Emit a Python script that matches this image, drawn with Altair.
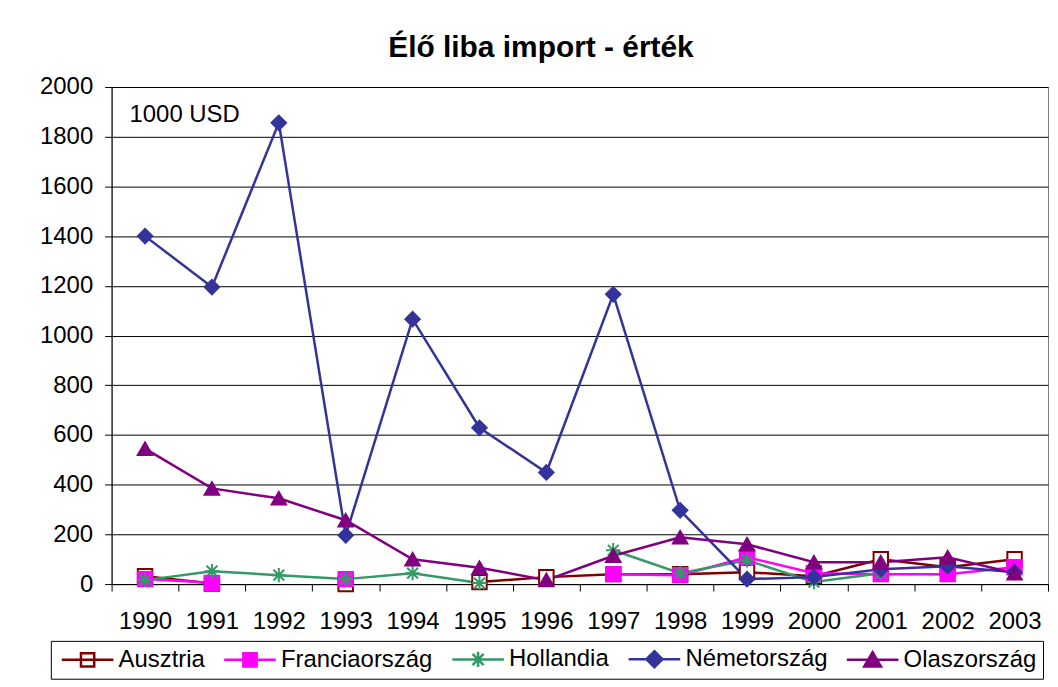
import altair as alt
import pandas as pd

years = [str(y) for y in range(1990, 2004)]
series_names = ["Ausztria", "Franciaország", "Hollandia", "Németország", "Olaszország"]
colors = ["#800000", "#FF00FF", "#339966", "#333399", "#800080"]
fills = ["#FFFFFF", "#FF00FF", "#339966", "#333399", "#800080"]

ausztria = [32, 2, None, 0, None, 8, 28, 40, 40, 48, 32, 100, 68, 100]
franciaorszag = [20, 5, None, 20, None, None, None, 40, 36, 108, 44, 40, 40, 68]
hollandia = [16, 52, 36, 20, 44, 4, None, 136, 44, 96, 8, 44, None, None]
nemetorszag = [1400, 1195, 1856, 196, 1066, 629, 449, 1166, 297, 20, 28, 60, 72, 48]
olaszorszag = [545, 385, 345, 257, 100, 66, 16, 114, 188, 160, 88, 88, 108, 44]

values = [ausztria, franciaorszag, hollandia, nemetorszag, olaszorszag]

rows = []
for name, vals in zip(series_names, values):
    for y, v in zip(years, vals):
        rows.append({"Év": y, "Ország": name, "Érték": v})
df = pd.DataFrame(rows)

FONT = "Liberation Sans"

asterisk = "M-1,0H1M0,-1V1M-0.75,-0.75L0.75,0.75M-0.75,0.75L0.75,-0.75"
plot_shapes = ["square", "square", asterisk, "diamond", "triangle-up"]

# legend symbols: horizontal line with marker in the middle (shifted right)
leg_line = "M-1,0H6.4"
mc = 2.7
h = 0.95
legend_shapes = [
    leg_line + f"M{mc-h},-{h}H{mc+h}V{h}H{mc-h}Z",
    leg_line + f"M{mc-h},-{h}H{mc+h}V{h}H{mc-h}Z",
    leg_line + f"M{mc-1.1},0H{mc+1.1}M{mc},-1.1V1.1M{mc-0.8},-0.8L{mc+0.8},0.8M{mc-0.8},0.8L{mc+0.8},-0.8",
    leg_line + f"M{mc},-1.15L{mc+1.15},0L{mc},1.15L{mc-1.15},0Z",
    leg_line + f"M{mc},-1.1L{mc+1.2},0.95L{mc-1.2},0.95Z",
]

x_enc = alt.X(
    "Év:O",
    scale=alt.Scale(type="band", paddingInner=0, paddingOuter=0),
    axis=alt.Axis(
        title=None, labelAngle=0, tickBand="extent", labelFontSize=24,
        labelFont=FONT, labelColor="black", labelPadding=19,
        tickColor="black", tickSize=7, domainColor="black", grid=False,
        labelFlush=False,
    ),
)
y_enc = alt.Y(
    "Érték:Q",
    scale=alt.Scale(domain=[0, 2000]),
    axis=alt.Axis(
        title=None, values=list(range(0, 2001, 200)), format="d", labelFontSize=24,
        labelFont=FONT, labelColor="black", labelPadding=12, tickColor="black",
        tickSize=7, domainColor="black", gridColor="black", gridWidth=1,
    ),
)

color_scale = alt.Scale(domain=series_names, range=colors)

lines = alt.Chart(df).mark_line(strokeWidth=2.5, invalid="break-paths-show-domains").encode(
    x=x_enc, y=y_enc,
    color=alt.Color("Ország:N", scale=color_scale, legend=None),
)

points = alt.Chart(df).mark_point(filled=False, size=210, strokeWidth=2, opacity=1).encode(
    x=x_enc, y=y_enc,
    shape=alt.Shape("Ország:N", scale=alt.Scale(domain=series_names, range=plot_shapes), legend=None),
    stroke=alt.Stroke("Ország:N", scale=color_scale, legend=None),
    fill=alt.Fill("Ország:N", scale=alt.Scale(domain=series_names, range=fills), legend=None),
)

legend_layer = alt.Chart(df).mark_point(clip=True, filled=False, strokeWidth=2.5, opacity=1).encode(
    x=alt.value(0), y=alt.value(-300),
    shape=alt.Shape("Ország:N", scale=alt.Scale(domain=series_names, range=legend_shapes),
                    legend=alt.Legend(title=None)),
    stroke=alt.Stroke("Ország:N", scale=alt.Scale(domain=series_names, range=colors),
                      legend=alt.Legend(title=None)),
    fill=alt.Fill("Ország:N", scale=alt.Scale(domain=series_names, range=fills),
                  legend=alt.Legend(title=None)),
)

unit_text = alt.Chart(pd.DataFrame({"t": ["1000 USD"]})).mark_text(
    align="left", baseline="middle", fontSize=24, font=FONT, color="black"
).encode(text="t:N", x=alt.value(18), y=alt.value(28))

chart = alt.layer(lines, points, legend_layer, unit_text).resolve_scale(
    shape="independent", stroke="independent", fill="independent"
).properties(
    width=940, height=499,
    autosize=alt.AutoSizeParams(type="none"),
    padding={"left": 104, "top": 78, "right": 2, "bottom": 100},
    title=alt.TitleParams("Élő liba import - érték", fontSize=30, font=FONT,
                          fontWeight="bold", anchor="middle", offset=12, dx=-39,
                          color="black"),
).configure_view(stroke="#808080", strokeWidth=1).configure_legend(
    orient="none", legendX=-61, legendY=556, direction="horizontal",
    strokeColor="black", padding=6, labelFontSize=24, labelFont=FONT,
    labelColor="black", symbolSize=196, symbolStrokeWidth=2.5,
    labelOffset=38, columnPadding=14, symbolOffset=0,
)

chart.save("out.html", embed_options={"renderer": "svg", "actions": False})
